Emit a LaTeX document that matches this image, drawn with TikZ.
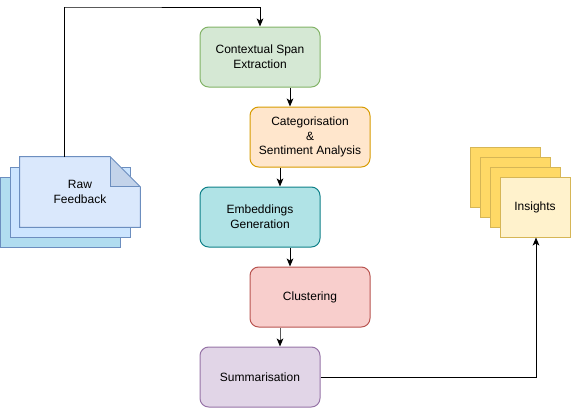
\documentclass[tikz,border=0pt]{standalone}
\usepackage{fontspec}
\setmainfont{Liberation Sans}
\usetikzlibrary{arrows.meta,calc}
\definecolor{gfill}{HTML}{D5E8D4}\definecolor{gline}{HTML}{82B366}
\definecolor{ofill}{HTML}{FFE6CC}\definecolor{oline}{HTML}{D79B00}
\definecolor{tfill}{HTML}{B0E3E6}\definecolor{tline}{HTML}{0E8088}
\definecolor{rfill}{HTML}{F8CECC}\definecolor{rline}{HTML}{B85450}
\definecolor{pfill}{HTML}{E1D5E7}\definecolor{pline}{HTML}{9673A6}
\definecolor{bfill}{HTML}{DAE8FC}\definecolor{bline}{HTML}{6C8EBF}
\definecolor{bmid}{HTML}{CCE5FF}\definecolor{bback}{HTML}{B1DDF0}
\definecolor{bfold}{HTML}{C3D3EA}
\definecolor{yfill}{HTML}{FFF2CC}\definecolor{ydark}{HTML}{FFD966}\definecolor{yline}{HTML}{D6B656}
\tikzset{
  stepbox/.style={rounded corners=6.5pt, minimum width=90pt, minimum height=45pt,
    align=center, line width=0.75pt, font=\fontsize{9}{11}\selectfont, inner sep=2pt},
  arr/.style={line width=0.75pt, -{Stealth[length=6pt,width=5pt,inset=1.5pt,color=black]}},
  card/.style={draw=yline, line width=0.75pt, minimum width=52.5pt, minimum height=45pt, inner sep=0pt},
  sheet/.style={draw=bline, line width=0.75pt, minimum width=90pt, minimum height=52.5pt, inner sep=0pt},
}
\begin{document}
\begin{tikzpicture}[x=0.75pt,y=-0.75pt]
\useasboundingbox (0,0) rectangle (571,408);
% pipeline
\node[stepbox, fill=gfill, draw=gline] (ctx) at (260,57) {Contextual Span\\Extraction};
\node[stepbox, fill=ofill, draw=oline] (cat) at (310,137) {Categorisation\\\&\\Sentiment Analysis};
\node[stepbox, fill=tfill, draw=tline] (emb) at (260,217) {Embeddings\\Generation};
\node[stepbox, fill=rfill, draw=rline] (clu) at (310,297) {Clustering};
\node[stepbox, fill=pfill, draw=pline] (sum) at (260,377) {Summarisation};
% raw feedback stack
\node[sheet, fill=bback] (rawb) at (60,212) {};
\node[sheet, fill=bmid] (rawm) at (70,202) {};
\node[minimum width=90pt, minimum height=52.5pt, inner sep=0pt, align=center,
  font=\fontsize{9}{11}\selectfont] (raw) at (80,192) {};
\fill[bfill] (raw.north west) -- ($(raw.north east)+(-30,0)$) -- ($(raw.north east)+(0,30)$) -- (raw.south east) -- (raw.south west) -- cycle;
\fill[bfold] ($(raw.north east)+(-30,0)$) -- ($(raw.north east)+(-30,30)$) -- ($(raw.north east)+(0,30)$) -- cycle;
\draw[bline, line width=0.75pt, line join=miter] (raw.north west) -- ($(raw.north east)+(-30,0)$) -- ($(raw.north east)+(0,30)$) -- (raw.south east) -- (raw.south west) -- cycle;
\draw[bline, line width=0.75pt] ($(raw.north east)+(-30,0)$) -- ($(raw.north east)+(-30,30)$) -- ($(raw.north east)+(0,30)$);
\node[align=center, font=\fontsize{9}{11}\selectfont] (rawtxt) at (raw.center) {Raw\\Feedback};
% insights stack
\node[card, fill=ydark] (ins1) at (505,177) {};
\node[card, fill=ydark] (ins2) at (515,187) {};
\node[card, fill=ydark] (ins3) at (525,197) {};
\node[card, fill=yfill, font=\fontsize{9}{11}\selectfont] (ins) at (535,207) {Insights};
% connectors
\coordinate (c1) at (65,7);
\draw[arr] ($(raw.north west)+(45,0)$) |- (c1) -| (ctx.north);
\draw[arr] ($(ctx.south)+(30,0)$) -- ($(cat.north)+(-20,0)$);
\draw[arr] ($(cat.south)+(-30,0)$) -- ($(emb.north)+(20,0)$);
\draw[arr] ($(emb.south)+(30,0)$) -- ($(clu.north)+(-20,0)$);
\draw[arr, draw=black!65] ($(clu.south)+(-30,0)$) -- ($(sum.north)+(20,0)$);
\draw[arr] (sum.east) -| ($(ins.south)+(1,0)$);
\end{tikzpicture}
\end{document}
